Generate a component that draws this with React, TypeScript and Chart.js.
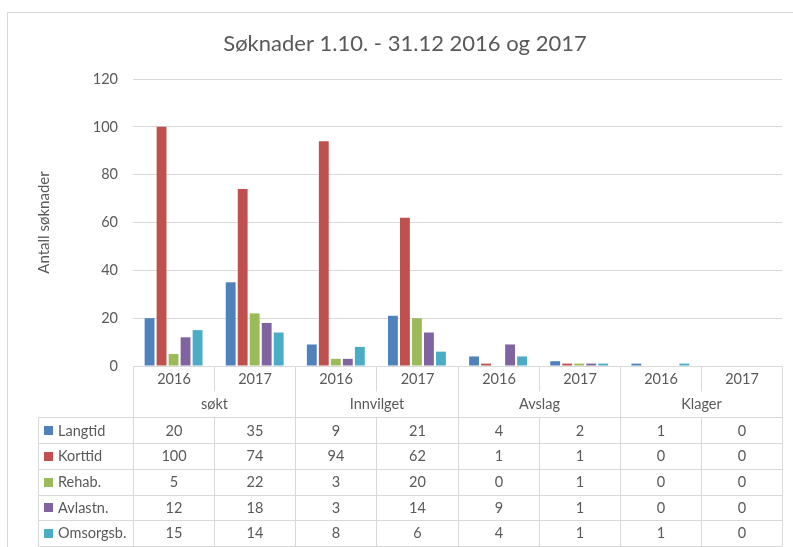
import React, { useEffect, useRef } from "react";
import { Chart, registerables } from "chart.js";

Chart.register(...registerables);

const TITLE = "Søknader 1.10. - 31.12 2016 og 2017";
const Y_TITLE = "Antall søknader";
const GROUPS = ["søkt", "Innvilget", "Avslag", "Klager"];
const YEARS = ["2016", "2017"];
const CATEGORIES = GROUPS.flatMap((g) => YEARS.map((y) => `${g} ${y}`));

const SERIES_NAMES = ["Langtid", "Korttid", "Rehab.", "Avlastn.", "Omsorgsb."];
const LANGTID = [20, 35, 9, 21, 4, 2, 1, 0];
const KORTTID = [100, 74, 94, 62, 1, 1, 0, 0];
const REHAB = [5, 22, 3, 20, 0, 1, 0, 0];
const AVLASTN = [12, 18, 3, 14, 9, 1, 0, 0];
const OMSORGSB = [15, 14, 8, 6, 4, 1, 1, 0];
const SERIES_VALUES = [LANGTID, KORTTID, REHAB, AVLASTN, OMSORGSB];
const COLORS = ["#4F81BD", "#C0504D", "#9BBB59", "#8064A2", "#4BACC6"];

const Y_MIN = 0;
const Y_MAX = 120;
const Y_STEP = 20;

const FONT = "Lato, 'Open Sans', sans-serif";
const TEXT = "#595959";
const LINE = "#d9d9d9";

const drawPlugin = {
  id: "excelDecor",
  beforeDraw(chart: any) {
    const ctx = chart.ctx;
    ctx.save();
    ctx.fillStyle = "#ffffff";
    ctx.fillRect(0, 0, chart.width, chart.height);
    ctx.strokeStyle = LINE;
    ctx.lineWidth = 1;
    ctx.strokeRect(7.5, 12.5, 792, 545);
    ctx.restore();
  },
  afterDraw(chart: any) {
    const ctx = chart.ctx;
    const area = chart.chartArea;
    const n = CATEGORIES.length;
    const colW = (area.right - area.left) / n;
    const edges = Array.from({ length: n + 1 }, (_, i) => Math.round(area.left + i * colW) + 0.5);
    const top = Math.round(area.bottom) + 0.5;
    const yearBottom = top + 25;
    const groupBottom = top + 51;
    const rowH = (546 - groupBottom) / SERIES_NAMES.length;
    const tableLeft = 38.5;
    const tableBottom = groupBottom + rowH * SERIES_NAMES.length;

    ctx.save();
    // Title
    ctx.fillStyle = TEXT;
    ctx.font = `22px ${FONT}`;
    ctx.textAlign = "center";
    ctx.textBaseline = "middle";
    ctx.fillText(TITLE, 405, 44);

    // Y title
    ctx.save();
    ctx.translate(44, (area.top + area.bottom) / 2);
    ctx.rotate(-Math.PI / 2);
    ctx.font = `15px ${FONT}`;
    ctx.fillText(Y_TITLE, 0, 0);
    ctx.restore();

    // Lines
    ctx.strokeStyle = LINE;
    ctx.lineWidth = 1;
    const line = (x1: number, y1: number, x2: number, y2: number) => {
      ctx.beginPath();
      ctx.moveTo(x1, y1);
      ctx.lineTo(x2, y2);
      ctx.stroke();
    };
    line(edges[0], top, edges[n], top);
    line(tableLeft, groupBottom, edges[n], groupBottom);
    for (let r = 1; r <= SERIES_NAMES.length; r++) {
      const y = Math.round(groupBottom + r * rowH) + 0.5;
      line(tableLeft, y, edges[n], y);
    }
    line(tableLeft, groupBottom, tableLeft, tableBottom);
    edges.forEach((x, i) => {
      if (i % 2 === 0) {
        line(x, top, x, tableBottom);
      } else {
        line(x, top, x, yearBottom);
        line(x, groupBottom, x, tableBottom);
      }
    });

    // Year and group labels
    ctx.fillStyle = TEXT;
    ctx.font = `14.5px ${FONT}`;
    ctx.textAlign = "center";
    for (let i = 0; i < n; i++) {
      const cx = (edges[i] + edges[i + 1]) / 2;
      ctx.fillText(YEARS[i % YEARS.length], cx, top + 13);
    }
    GROUPS.forEach((g, gi) => {
      const cx = (edges[gi * 2] + edges[gi * 2 + 2]) / 2;
      ctx.fillText(g, cx, top + 38);
    });

    // Data rows
    chart.data.datasets.forEach((ds: any, r: number) => {
      const cy = groupBottom + r * rowH + rowH / 2 + 0.5;
      ctx.fillStyle = ds.backgroundColor;
      ctx.fillRect(44, Math.round(cy - 4.5), 9, 9);
      ctx.fillStyle = TEXT;
      ctx.textAlign = "left";
      ctx.fillText(ds.label, 58, cy);
      ctx.textAlign = "center";
      ds.data.forEach((v: number, i: number) => {
        ctx.fillText(String(v), (edges[i] + edges[i + 1]) / 2, cy);
      });
    });
    ctx.restore();
  },
};

export default function App() {
  const ref = useRef<HTMLCanvasElement>(null);
  useEffect(() => {
    let chart: Chart | null = null;
    let cancelled = false;
    const make = () => {
      if (cancelled || !ref.current) return;
      chart = new Chart(ref.current, {
        type: "bar",
        data: {
          labels: CATEGORIES,
          datasets: SERIES_NAMES.map((name, i) => ({
            label: name,
            data: SERIES_VALUES[i],
            backgroundColor: COLORS[i],
            borderWidth: 0,
            categoryPercentage: 0.74,
            barPercentage: 0.82,
          })),
        },
        options: {
          animation: false,
          responsive: false,
          devicePixelRatio: 1,
          layout: { padding: { top: 79, bottom: 181, left: 0, right: 11 } },
          plugins: { legend: { display: false }, title: { display: false }, tooltip: { enabled: false } },
          scales: {
            x: { display: false },
            y: {
              min: Y_MIN,
              max: Y_MAX,
              ticks: { stepSize: Y_STEP, padding: 15, color: TEXT, font: { family: FONT, size: 14.5 } },
              grid: { color: LINE, drawTicks: false },
              border: { display: false },
              afterFit: (scale: any) => {
                scale.width = 133;
              },
            },
          },
        },
        plugins: [drawPlugin],
      } as any);
    };
    const fonts: any = (document as any).fonts;
    if (fonts && fonts.load) {
      Promise.all([fonts.load(`14px Lato`), fonts.load(`22px Lato`)]).then(make, make);
    } else make();
    return () => {
      cancelled = true;
      if (chart) chart.destroy();
    };
  }, []);
  return (
    <div style={{ position: "absolute", left: 0, top: 0, width: 793, height: 547, background: "#fff" }}>
      <canvas ref={ref} width={793} height={547} style={{ display: "block" }} />
    </div>
  );
}
